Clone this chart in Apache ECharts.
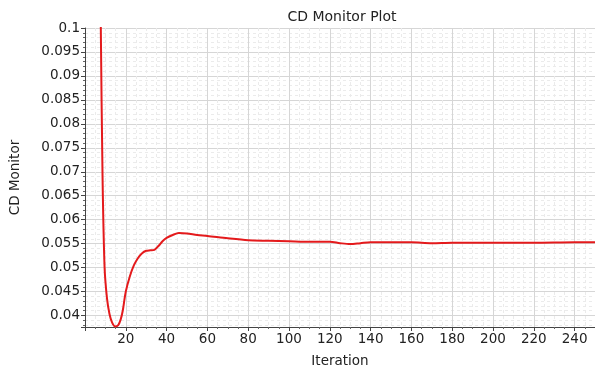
<!DOCTYPE html>
<html>
<head>
<meta charset="utf-8">
<script src="https://cdn.jsdelivr.net/npm/echarts@6/dist/echarts.min.js"></script>
<style>html,body{margin:0;padding:0;background:#fff}#c{width:595px;height:373px}</style>
</head>
<body>
<div id="c"></div>
<script>
const titleText = "CD Monitor Plot";
const xName = "Iteration";
const yName = "CD Monitor";
const iterations = [1, 3, 5, 7, 7.75, 8.6, 9.6, 10.8, 12, 13.3, 14.8, 16.3, 17.5, 18.5, 20, 22, 24, 26, 28, 30, 32, 34, 36, 38, 40, 43, 46, 50, 55, 60, 70, 80, 90, 100, 110, 120, 125, 130, 135, 140, 150, 160, 170, 180, 200, 220, 240, 250];
const cdValues = [0.60, 0.40, 0.25, 0.13, 0.100, 0.069, 0.0500, 0.0435, 0.0403, 0.0385, 0.0377, 0.0380, 0.0392, 0.0410, 0.0450, 0.0482, 0.0505, 0.0520, 0.0530, 0.0535, 0.0536, 0.0537, 0.0545, 0.0555, 0.0562, 0.0568, 0.0572, 0.0571, 0.0568, 0.0566, 0.0561, 0.0557, 0.0556, 0.0555, 0.0554, 0.0554, 0.0551, 0.0549, 0.0551, 0.0553, 0.0553, 0.0553, 0.0551, 0.0552, 0.0552, 0.0552, 0.0553, 0.0553];

const font = "DejaVu Sans";
const chart = echarts.init(document.getElementById('c'));
chart.setOption({
  animation: false,
  title: {
    text: titleText, left: 337, top: 5, textAlign: 'center',
    textStyle: {fontFamily: font, fontSize: 14, fontWeight: 'normal', color: '#222'}
  },
  grid: {left: 79, right: 0, top: 28, bottom: 39, containLabel: false},
  xAxis: {
    type: 'value', min: 0, max: 250, interval: 20,
    name: xName, nameLocation: 'middle', nameGap: 27,
    nameTextStyle: {fontFamily: font, fontSize: 13.5, color: '#222'},
    axisLine: {show: true, lineStyle: {color: '#444', width: 1}},
    axisTick: {show: true, length: 4, lineStyle: {color: '#444'}},
    minorTick: {show: true, splitNumber: 4, length: 2, lineStyle: {color: '#666'}},
    axisLabel: {fontFamily: font, fontSize: 13.5, color: '#222', margin: 5,
      showMinLabel: false, showMaxLabel: false},
    splitLine: {show: true, lineStyle: {color: '#d6d6d6', width: 1}},
    minorSplitLine: {show: true, lineStyle: {color: '#ebebeb', type: [3, 3], width: 1}}
  },
  yAxis: {
    type: 'value', min: 0.0376, max: 0.1, splitNumber: 12,
    name: yName, nameLocation: 'middle', nameGap: 63,
    nameTextStyle: {fontFamily: font, fontSize: 13.5, color: '#222'},
    axisLine: {show: true, lineStyle: {color: '#444', width: 1}},
    axisTick: {show: true, length: 4, lineStyle: {color: '#444'}},
    minorTick: {show: true, splitNumber: 5, length: 2, lineStyle: {color: '#666'}},
    axisLabel: {fontFamily: font, fontSize: 13.5, color: '#222', margin: 5,
      showMinLabel: false,
      formatter: v => String(parseFloat(v.toFixed(4)))},
    splitLine: {show: true, lineStyle: {color: '#d6d6d6', width: 1}},
    minorSplitLine: {show: true, lineStyle: {color: '#ebebeb', type: [3, 3], width: 1}}
  },
  series: [{
    type: 'line',
    data: iterations.map((x, i) => [x, cdValues[i]]),
    showSymbol: false,
    smooth: 0.3,
    clip: true,
    lineStyle: {color: '#e41a1c', width: 2}
  }]
});
</script>
</body>
</html>
